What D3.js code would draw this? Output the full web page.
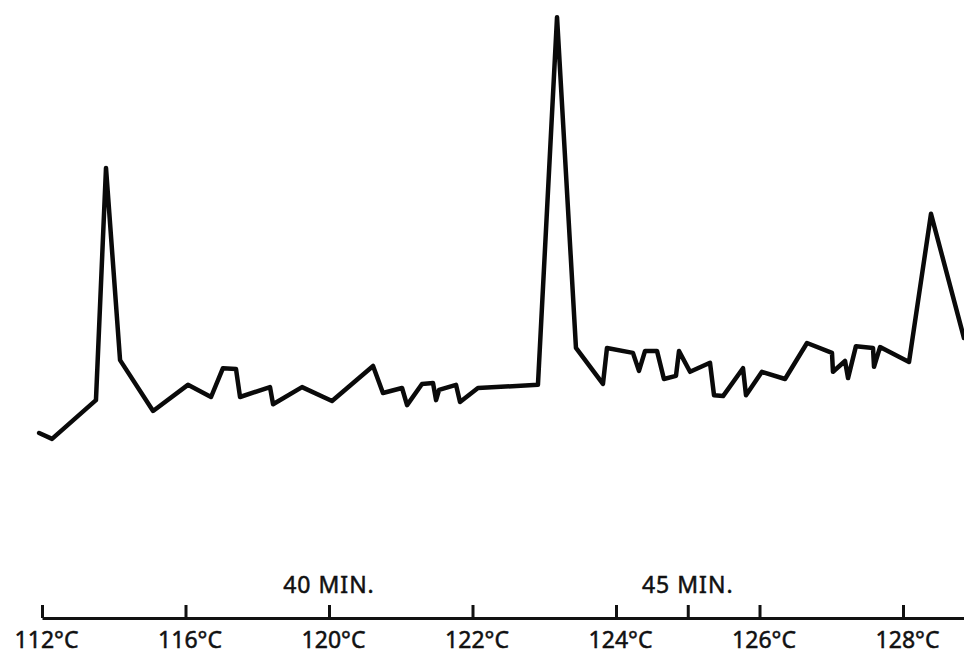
<!DOCTYPE html>
<html>
<head>
<meta charset="utf-8">
<script src="https://cdn.jsdelivr.net/npm/d3@7"></script>
<style>
  body { margin: 0; background: #fff; }
  svg { display: block; }
  .axis text { font-family: "Noto Sans", sans-serif; font-size: 23px; fill: #111; stroke: #111; stroke-width: 0.5px; }
  .minLabel { font-family: "Noto Sans", sans-serif; font-size: 23px; letter-spacing: 1px; fill: #111; stroke: #111; stroke-width: 0.5px; }
</style>
</head>
<body>
<div id="chart"></div>
<script>
// SVG dimensions
var svgWidth = 964;
var svgHeight = 658;

// temperature ticks (position in tick units along the time axis)
var tickPos = [0, 1, 2, 3, 4, 5, 6];
var tickLabels = ["112°C", "116°C", "120°C", "122°C", "124°C", "126°C", "128°C"];

// elapsed time markers
var minPos = [2, 4.5];
var minLabels = ["40 MIN.", "45 MIN."];

// trace, x in tick units, y in relative signal
var traceX = [-0.02, 0.07, 0.376, 0.446, 0.544, 0.774, 1.017, 1.178, 1.261, 1.352,
  1.38, 1.589, 1.61, 1.812, 2.021, 2.307, 2.376, 2.509, 2.544, 2.648,
  2.725, 2.746, 2.767, 2.885, 2.913, 3.038, 3.456, 3.589, 3.721, 3.909,
  3.937, 4.118, 4.16, 4.202, 4.286, 4.334, 4.418, 4.439, 4.516, 4.655,
  4.683, 4.746, 4.885, 4.906, 5.017, 5.178, 5.331, 5.505, 5.512, 5.596,
  5.617, 5.672, 5.791, 5.798, 5.84, 6.042, 6.195, 6.425];
var traceY = [6.0, 4.7, 13.3, 64.9, 22.2, 10.9, 16.7, 14.0, 20.4, 20.2,
  14.0, 16.2, 12.4, 16.2, 13.1, 20.9, 14.9, 16.0, 12.2, 16.9,
  17.1, 13.3, 15.6, 16.7, 12.9, 16.0, 16.7, 98.4, 24.9, 16.9,
  24.9, 23.8, 19.8, 24.2, 24.2, 18.0, 18.7, 24.2, 19.6, 21.6,
  14.4, 14.2, 20.4, 14.4, 19.6, 18.0, 26.0, 23.8, 19.6, 22.0,
  18.2, 25.3, 24.9, 20.7, 25.1, 21.8, 54.7, 27.1];

var svg = d3.select("#chart")
  .append("svg")
  .attr("width", svgWidth)
  .attr("height", svgHeight);

var xScale = d3.scaleLinear()
  .domain([0, 6.425])
  .range([42, 964]);

var yScale = d3.scaleLinear()
  .domain([0, 100])
  .range([460, 10]);

// trace line
var points = traceX.map((x, i) => [x, traceY[i]]);

var line = d3.line()
  .x(d => xScale(d[0]))
  .y(d => yScale(d[1]));

svg.append("path")
  .datum(points)
  .attr("d", line)
  .attr("fill", "none")
  .attr("stroke", "#0a0a0a")
  .attr("stroke-width", 4.5)
  .attr("stroke-linejoin", "round")
  .attr("stroke-linecap", "round");

// bottom axis, ticks pointing up
var xAxis = d3.axisBottom(xScale)
  .tickValues(tickPos.concat([4.5]))
  .tickFormat(d => tickPos.indexOf(d) >= 0 ? tickLabels[tickPos.indexOf(d)] : "")
  .tickSizeInner(-13)
  .tickSizeOuter(0);

var axisG = svg.append("g")
  .attr("class", "axis")
  .attr("transform", "translate(0, 618)")
  .call(xAxis);

axisG.select(".domain")
  .attr("stroke", "#111")
  .attr("stroke-width", 3);

axisG.selectAll(".tick line")
  .attr("stroke", "#111")
  .attr("stroke-width", 3);

axisG.selectAll(".tick text")
  .attr("y", 14)
  .attr("dx", 4);

// time labels
svg.selectAll(".minLabel")
  .data(minPos)
  .enter()
  .append("text")
  .attr("class", "minLabel")
  .attr("x", d => xScale(d))
  .attr("y", 593)
  .attr("text-anchor", "middle")
  .text((d, i) => minLabels[i]);
</script>
</body>
</html>
